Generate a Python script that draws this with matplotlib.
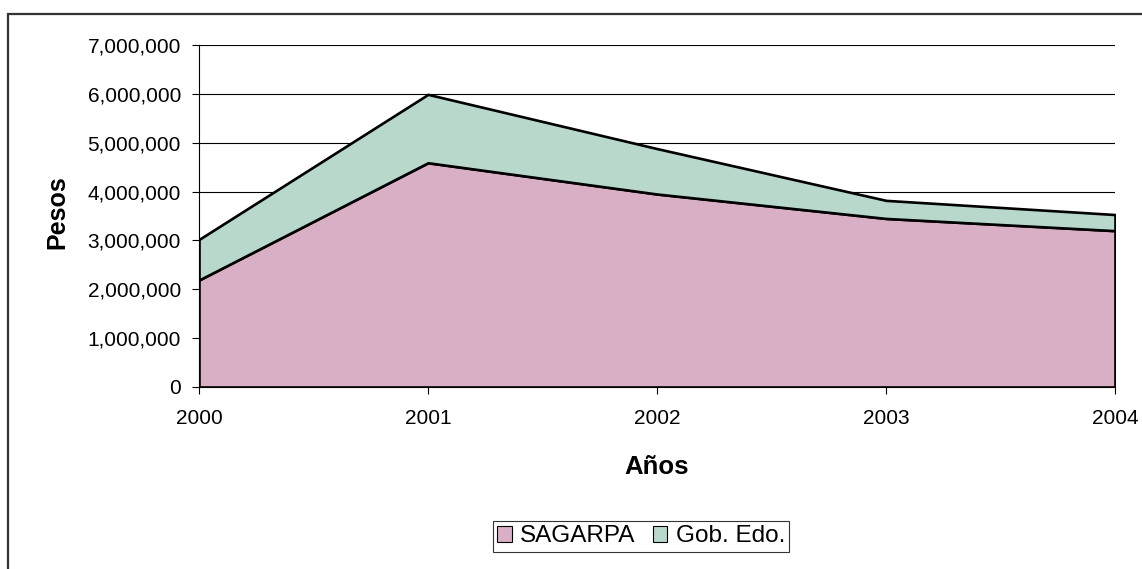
import matplotlib
matplotlib.use("Agg")
import matplotlib.pyplot as plt
from matplotlib.patches import Rectangle
from matplotlib.ticker import FuncFormatter

plt.rcParams['font.family'] = ['Liberation Sans', 'DejaVu Sans']

# data
years = [2000, 2001, 2002, 2003, 2004]
sagarpa = [2190000, 4590000, 3950000, 3450000, 3200000]
gob_edo = [830000, 1400000, 930000, 370000, 330000]
series_names = ['SAGARPA', 'Gob. Edo.']
colors = ['#d9afc6', '#b9d8cc']

fig = plt.figure(figsize=(11.42, 5.69), dpi=100)
ax = fig.add_axes([199/1142, 1-387/569, (1115-199)/1142, (387-45)/569])

ax.stackplot(years, sagarpa, gob_edo, colors=colors, labels=series_names,
             edgecolor='black', linewidth=1.9, zorder=3)

ax.set_xlim(2000, 2004)
ax.set_ylim(0, 7000000)
ax.set_xticks(years)
ax.set_yticks(range(0, 7000001, 1000000))
ax.yaxis.set_major_formatter(FuncFormatter(lambda v, p: f'{int(v):,}'))
ax.grid(axis='y', color='black', linewidth=0.8, zorder=0)
ax.set_axisbelow(True)

for s in ['top', 'right']:
    ax.spines[s].set_visible(False)
ax.spines['left'].set_linewidth(0.8)
ax.spines['bottom'].set_linewidth(0.8)
ax.tick_params(axis='both', direction='out', length=5, width=0.8, labelsize=15)
ax.tick_params(axis='y', pad=8)
ax.tick_params(axis='x', pad=11)

ax.set_ylabel('Pesos', fontsize=18, fontweight='bold', va='center')
ax.yaxis.set_label_coords((57-199)/916, (387-212)/342)
ax.set_xlabel('Años', fontsize=18.5, fontweight='bold', va='center')
ax.xaxis.set_label_coords(0.5, (387-467)/342)

leg = ax.legend(loc='center', bbox_to_anchor=(641/1142, 1-536.5/569),
                bbox_transform=fig.transFigure, ncol=2, fontsize=17.5,
                frameon=True, fancybox=False, edgecolor='black',
                handlelength=0.6, handleheight=0.6, handletextpad=0.35,
                columnspacing=0.7, borderpad=0.18, borderaxespad=0)
leg.get_frame().set_linewidth(0.8)
for h in leg.legend_handles:
    h.set_edgecolor('black')
    h.set_linewidth(0.8)

# outer chart-area border (extends past right and bottom edges)
fig.patches.append(Rectangle((8/1142, -0.2), 1.2, 1.2 - 14/569, transform=fig.transFigure,
                             fill=False, edgecolor='#333333', linewidth=1.6, clip_on=False))

fig.savefig('out.png', dpi=100)
